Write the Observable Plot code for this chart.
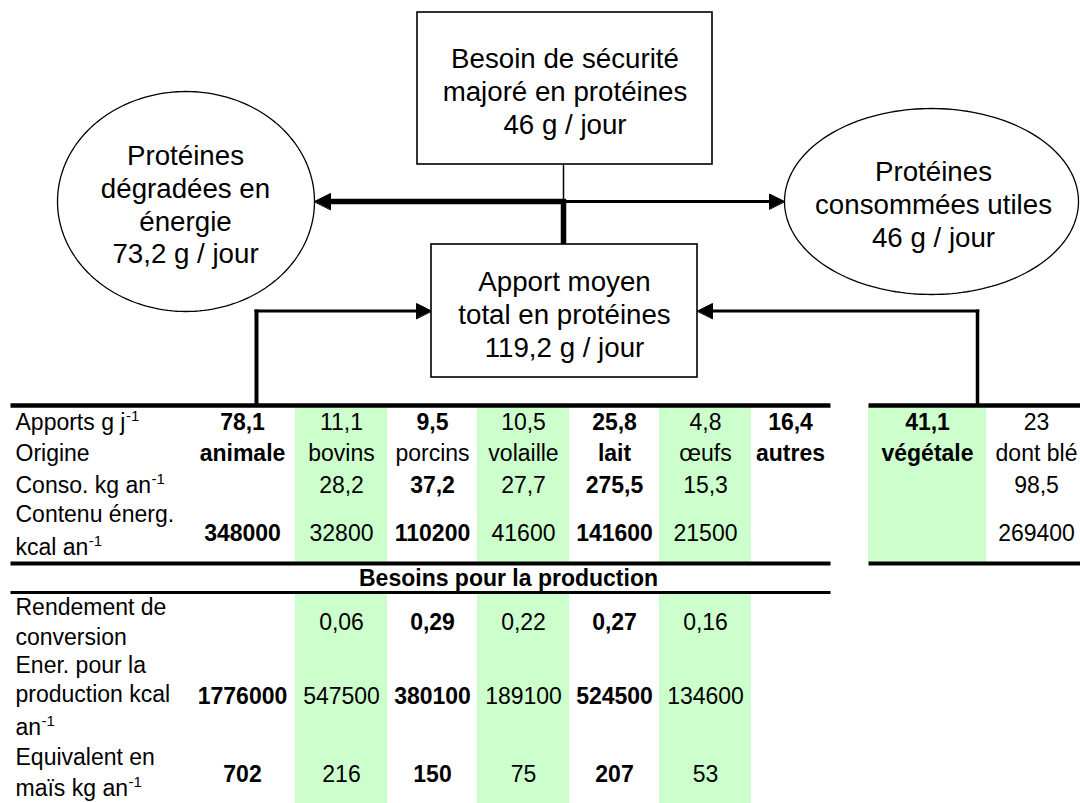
<!DOCTYPE html>
<html>
<head>
<meta charset="utf-8">
<script src="https://cdn.jsdelivr.net/npm/d3@7"></script>
<script src="https://cdn.jsdelivr.net/npm/@observablehq/plot@0.6"></script>
<style>
html, body { margin: 0; padding: 0; background: #fff; }
#chart svg { display: block; }
</style>
</head>
<body>
<div id="chart"></div>
<script>
// ---------------- DATA ----------------
const nodeIds = ["besoin", "apport", "degradees", "utiles"];
const nodeTexts = [
  ["Besoin de sécurité", "majoré en protéines"],
  ["Apport moyen", "total en protéines"],
  ["Protéines", "dégradées en", "énergie"],
  ["Protéines", "consommées utiles"]
];
const nodeValues = [46, 119.2, 73.2, 46]; // g / jour
const nodeUnit = "g / jour";

const animalCols = ["animale", "bovins", "porcins", "volaille", "lait", "œufs", "autres"];
const apports = [78.1, 11.1, 9.5, 10.5, 25.8, 4.8, 16.4];
const conso = [null, 28.2, 37.2, 27.7, 275.5, 15.3, null];
const contenuEnerg = [348000, 32800, 110200, 41600, 141600, 21500, null];
const rendement = [null, 0.06, 0.29, 0.22, 0.27, 0.16, null];
const enerProduction = [1776000, 547500, 380100, 189100, 524500, 134600, null];
const equivMais = [702, 216, 150, 75, 207, 53, null];

const vegCols = ["végétale", "dont blé"];
const vegApports = [41.1, 23];
const vegConso = [null, 98.5];
const vegContenuEnerg = [null, 269400];

const rowLabels = [
  ["Apports g j^-1"],
  ["Origine"],
  ["Conso. kg an^-1"],
  ["Contenu énerg.", "kcal an^-1"],
  ["Rendement de", "conversion"],
  ["Ener. pour la", "production kcal", "an^-1"],
  ["Equivalent en", "maïs kg an^-1"]
];
const sectionTitle = "Besoins pour la production";

// ---------------- STYLE / LAYOUT ----------------
const W = 1080, H = 803;
const FONT = "'Liberation Sans', Arial, Helvetica, sans-serif";
const GREEN = "#ccffcc";
const greenCols = ["bovins", "volaille", "œufs", "végétale"];
const boldValueCols = ["animale", "porcins", "lait", "autres", "végétale"];
const boldOriginCols = ["animale", "lait", "autres", "végétale"];

const colCenter = {animale: 242, bovins: 341, porcins: 432, volaille: 523, lait: 614, "œufs": 705, autres: 790, "végétale": 927, "dont blé": 1036};
const colHalf = 46;
const tableTop = 405, energBottom = 563, sectionBottom = 592, tableBottom = 803;
const leftTable = [10, 830], rightTable = [868, 1080];
const valueRowY = [422, 453, 485, 533, 622, 696, 774];
const labelLineY = [[422], [453], [485], [514, 547], [607, 637], [665, 694, 727], [757, 788]];
const labelX = 15;
const tableFont = 23, supFont = 15;
const nodeFont = 27.7;

const shapes = {
  besoin: {type: "rect", x1: 417, x2: 712, y1: 12, y2: 164},
  apport: {type: "rect", x1: 431, x2: 697, y1: 244, y2: 377},
  degradees: {type: "ellipse", cx: 185.5, cy: 201, rx: 128.5, ry: 110},
  utiles: {type: "ellipse", cx: 931, cy: 201, rx: 147, ry: 93}
};
const textCenter = {besoin: [564.5, 90], apport: [564, 312.5], degradees: [185, 203], utiles: [933, 203]};

// ---------------- HELPERS ----------------
const fmt = v => v == null ? "" : String(v).replace(".", ",");
const canvas = document.createElement("canvas");
const ctx = canvas.getContext("2d");
function measure(text, size, weight) {
  ctx.font = `${weight || "normal"} ${size}px ${FONT}`;
  return ctx.measureText(text).width;
}

// nodes text
const nodeTextData = nodeIds.map((id, i) => ({
  x: textCenter[id][0], y: textCenter[id][1],
  text: [...nodeTexts[i], `${fmt(nodeValues[i])} ${nodeUnit}`].join("\n")
}));

// rectangles & ellipses
const boxData = nodeIds.filter(id => shapes[id].type === "rect").map(id => ({id, ...shapes[id]}));
const ellipsePts = [];
nodeIds.filter(id => shapes[id].type === "ellipse").forEach(id => {
  const s = shapes[id];
  for (let k = 0; k < 180; k++) {
    const t = (k / 180) * 2 * Math.PI;
    ellipsePts.push({id, x: s.cx + s.rx * Math.cos(t), y: s.cy + s.ry * Math.sin(t)});
  }
});

// connectors (derived from shape geometry)
const jx = 563, jy = 201;
const B = shapes.besoin, A = shapes.apport, D = shapes.degradees, U = shapes.utiles;
const leftConnX = 256, rightConnX = 977, connY = 310.5;
const arrowLen = 15, arrowHalf = 7.5, bigArrowLen = 16, bigArrowHalf = 8;
const links = [
  {x1: jx, y1: B.y2, x2: jx, y2: jy, w: 1.5},
  {x1: jx + 2.5, y1: jy, x2: D.cx + D.rx + bigArrowLen - 1, y2: jy, w: 5.5},
  {x1: jx, y1: jy - 2.5, x2: jx, y2: A.y1, w: 5.5},
  {x1: jx, y1: jy, x2: U.cx - U.rx - arrowLen + 1, y2: jy, w: 3},
  {x1: leftConnX, y1: tableTop, x2: leftConnX, y2: connY - 1.5, w: 4},
  {x1: leftConnX - 2, y1: connY, x2: A.x1 - arrowLen + 1, y2: connY, w: 3.2},
  {x1: rightConnX, y1: tableTop, x2: rightConnX, y2: connY - 1.5, w: 3.5},
  {x1: rightConnX + 1.75, y1: connY, x2: A.x2 + arrowLen - 1, y2: connY, w: 3.2}
];
const arrowDefs = [
  {tip: [D.cx + D.rx, jy], dir: -1, len: bigArrowLen, half: bigArrowHalf},
  {tip: [U.cx - U.rx, jy], dir: 1, len: arrowLen, half: arrowHalf},
  {tip: [A.x1, connY], dir: 1, len: arrowLen, half: arrowHalf},
  {tip: [A.x2, connY], dir: -1, len: arrowLen, half: arrowHalf}
];
const arrowPts = arrowDefs.flatMap((a, i) => [
  {id: i, x: a.tip[0], y: a.tip[1]},
  {id: i, x: a.tip[0] - a.dir * a.len, y: a.tip[1] - a.half},
  {id: i, x: a.tip[0] - a.dir * a.len, y: a.tip[1] + a.half}
]);

// table rules
const tableRules = [
  {x1: leftTable[0], x2: leftTable[1], y: tableTop, w: 4.5},
  {x1: rightTable[0], x2: rightTable[1], y: tableTop, w: 4.5},
  {x1: leftTable[0], x2: leftTable[1], y: energBottom, w: 4},
  {x1: rightTable[0], x2: rightTable[1], y: energBottom, w: 4},
  {x1: leftTable[0], x2: leftTable[1], y: sectionBottom, w: 3}
];

// green cells
const greenRects = [];
animalCols.filter(c => greenCols.includes(c)).forEach(c => {
  greenRects.push({x1: colCenter[c] - colHalf, x2: colCenter[c] + colHalf, y1: tableTop, y2: energBottom});
  greenRects.push({x1: colCenter[c] - colHalf, x2: colCenter[c] + colHalf, y1: sectionBottom, y2: tableBottom});
});
vegCols.filter(c => greenCols.includes(c)).forEach(c => {
  greenRects.push({x1: rightTable[0], x2: colCenter[c] + 59, y1: tableTop, y2: energBottom});
});

// table cells
const animalRows = [apports, animalCols, conso, contenuEnerg, rendement, enerProduction, equivMais];
const vegRows = [vegApports, vegCols, vegConso, vegContenuEnerg];
const cells = [];
animalRows.forEach((row, r) => row.forEach((v, i) => {
  const c = animalCols[i];
  const text = typeof v === "string" ? v : fmt(v);
  if (!text) return;
  const bold = r === 1 ? boldOriginCols.includes(c) : boldValueCols.includes(c);
  cells.push({x: colCenter[c], y: valueRowY[r], text, bold});
}));
vegRows.forEach((row, r) => row.forEach((v, i) => {
  const c = vegCols[i];
  const text = typeof v === "string" ? v : fmt(v);
  if (!text) return;
  const bold = r === 1 ? boldOriginCols.includes(c) : boldValueCols.includes(c);
  cells.push({x: colCenter[c], y: valueRowY[r], text, bold});
}));

// row labels with superscripts
const labelLines = [], supLines = [];
rowLabels.forEach((lines, r) => lines.forEach((line, k) => {
  const y = labelLineY[r][k];
  const [base, sup] = line.split("^");
  labelLines.push({x: labelX, y, text: base});
  if (sup) supLines.push({x: labelX + measure(base, tableFont) + 0.5, y: y - 6, text: sup});
}));

// ---------------- PLOT ----------------
const chart = Plot.plot({
  width: W, height: H,
  marginTop: 0, marginRight: 0, marginBottom: 0, marginLeft: 0,
  x: {domain: [0, W], range: [0, W], axis: null},
  y: {domain: [0, H], range: [0, H], axis: null},
  style: {fontFamily: FONT, background: "#fff", color: "#000"},
  marks: [
    Plot.rect(greenRects, {x1: "x1", x2: "x2", y1: "y1", y2: "y2", fill: GREEN}),
    Plot.link(tableRules, {x1: "x1", x2: "x2", y1: "y", y2: "y", stroke: "#000", strokeWidth: d => d.w}),
    Plot.link(links, {x1: "x1", y1: "y1", x2: "x2", y2: "y2", stroke: "#000", strokeWidth: d => d.w, strokeLinecap: "butt"}),
    Plot.line(arrowPts, {x: "x", y: "y", z: "id", curve: "linear-closed", fill: "#000", stroke: "#000", strokeWidth: 1}),
    Plot.rect(boxData, {x1: "x1", x2: "x2", y1: "y1", y2: "y2", fill: "#fff", stroke: "#000", strokeWidth: 1.6}),
    Plot.line(ellipsePts, {x: "x", y: "y", z: "id", curve: "linear-closed", fill: "#fff", stroke: "#000", strokeWidth: 1.3}),
    Plot.text(nodeTextData, {x: "x", y: "y", text: "text", fontSize: nodeFont, lineHeight: 1.19, fill: "#000", textAnchor: "middle"}),
    Plot.text(labelLines, {x: "x", y: "y", text: "text", fontSize: tableFont, textAnchor: "start", fill: "#000"}),
    Plot.text(supLines, {x: "x", y: "y", text: "text", fontSize: supFont, textAnchor: "start", fill: "#000"}),
    Plot.text(cells.filter(d => !d.bold), {x: "x", y: "y", text: "text", fontSize: tableFont, textAnchor: "middle", fill: "#000"}),
    Plot.text(cells.filter(d => d.bold), {x: "x", y: "y", text: "text", fontSize: tableFont, fontWeight: "bold", textAnchor: "middle", fill: "#000"}),
    Plot.text([sectionTitle], {x: () => 508, y: () => 578, text: d => d, fontSize: tableFont, fontWeight: "bold", textAnchor: "middle", fill: "#000"})
  ]
});
document.getElementById("chart").appendChild(chart);
</script>
</body>
</html>
